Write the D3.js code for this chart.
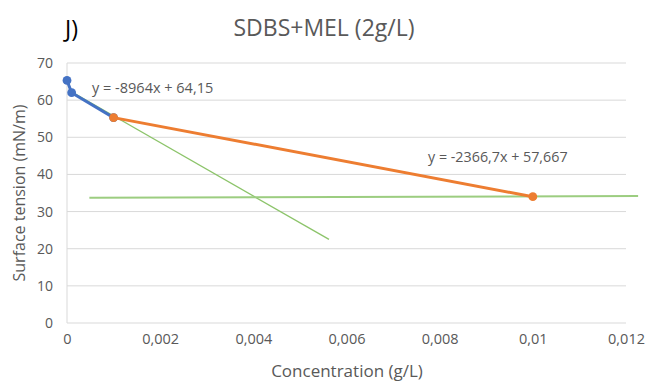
<!DOCTYPE html>
<html>
<head>
<meta charset="utf-8">
<script src="https://cdn.jsdelivr.net/npm/d3@7"></script>
<style>
  html, body { margin: 0; padding: 0; background: #fff; }
  svg text { font-family: "Open Sans", Lato, sans-serif; }
</style>
</head>
<body>
<svg id="chart" width="647" height="383"></svg>
<script>
// Surface tension of SDBS+MEL (2 g/L) vs concentration
const xTicks = [0, 0.002, 0.004, 0.006, 0.008, 0.01, 0.012];
const yTicks = [0, 10, 20, 30, 40, 50, 60, 70];

// Low-concentration series (blue)
const lowConc = [0, 0.0001, 0.001];
const lowTension = [65.3, 62.0, 55.3];

// High-concentration series (orange)
const highConc = [0.001, 0.01];
const highTension = [55.3, 34.0];

// Fitted equations shown on the chart
const lowFit = { slope: -8964, intercept: 64.15, label: "y = -8964x + 64,15" };
const highFit = { slope: -2366.7, intercept: 57.667, label: "y = -2366,7x + 57,667" };

// Hand-drawn guide lines (green) used to read the CMC intersection
const guideSteepX = [0.000107, 0.005624];
const guideSteepY = [62.2, 22.5];
const guideFlatX = [0.00048, 0.01226];
const guideFlatY = [33.7, 34.2];

const svg = d3.select("#chart");
const margin = { left: 67, right: 21, top: 63, bottom: 60 };
const W = 647, H = 383;

const x = d3.scaleLinear().domain([0, 0.012]).range([margin.left, W - margin.right]);
const y = d3.scaleLinear().domain([0, 70]).range([H - margin.bottom, margin.top]);

const grey = "#595959";
const fmt = d => String(d).replace(".", ",");

// Horizontal gridlines
svg.append("g")
  .selectAll("line")
  .data(yTicks)
  .join("line")
  .attr("x1", x(0)).attr("x2", x(0.012))
  .attr("y1", d => y(d)).attr("y2", d => y(d))
  .attr("stroke", "#d9d9d9").attr("stroke-width", 1);

// Y axis line
svg.append("line")
  .attr("x1", x(0)).attr("x2", x(0))
  .attr("y1", y(0)).attr("y2", y(70))
  .attr("stroke", "#d9d9d9").attr("stroke-width", 1);

// Axes (labels only)
const yAxis = d3.axisLeft(y).tickValues(yTicks).tickSize(0).tickPadding(14).tickFormat(d => d);
svg.append("g").attr("transform", `translate(${x(0)},0)`).call(yAxis)
  .call(g => g.select(".domain").remove())
  .selectAll("text").attr("fill", grey).style("font-size", "14px");

const xAxis = d3.axisBottom(x).tickValues(xTicks).tickSize(0).tickPadding(11).tickFormat(fmt);
svg.append("g").attr("transform", `translate(0,${y(0)})`).call(xAxis)
  .call(g => g.select(".domain").remove())
  .selectAll("text").attr("fill", grey).style("font-size", "14.5px");

const line = d3.line().x(d => x(d[0])).y(d => y(d[1]));

// Guide lines
svg.append("path")
  .attr("d", line(d3.zip(guideSteepX, guideSteepY)))
  .attr("fill", "none").attr("stroke", "#8cc46a").attr("stroke-width", 1.3);
svg.append("path")
  .attr("d", line(d3.zip(guideFlatX, guideFlatY)))
  .attr("fill", "none").attr("stroke", "#9ccd80").attr("stroke-width", 2);

// Series
function drawSeries(xs, ys, color) {
  const pts = d3.zip(xs, ys);
  svg.append("path").attr("d", line(pts))
    .attr("fill", "none").attr("stroke", color).attr("stroke-width", 3)
    .attr("stroke-linejoin", "round");
  svg.append("g").selectAll("circle").data(pts).join("circle")
    .attr("cx", d => x(d[0])).attr("cy", d => y(d[1])).attr("r", 4.4)
    .attr("fill", color);
}
drawSeries(lowConc, lowTension, "#4472c4");
drawSeries(highConc, highTension, "#ed7d31");

// Equation labels
svg.append("text").attr("x", 92).attr("y", 93)
  .attr("fill", grey).style("font-size", "14.5px").text(lowFit.label);
svg.append("text").attr("x", 428).attr("y", 162)
  .attr("fill", grey).style("font-size", "14.3px").text(highFit.label);

// Titles
svg.append("text").attr("x", 324).attr("y", 36).attr("text-anchor", "middle")
  .attr("fill", grey).style("font-size", "23px").text("SDBS+MEL (2g/L)");
svg.append("text").attr("x", 65).attr("y", 37)
  .attr("fill", "#000").style("font-size", "23px").text("J)");
svg.append("text").attr("x", 347).attr("y", 377).attr("text-anchor", "middle")
  .attr("fill", grey).style("font-size", "17px").text("Concentration (g/L)");
svg.append("text")
  .attr("transform", `translate(25,${y(35)}) rotate(-90)`)
  .attr("text-anchor", "middle")
  .attr("fill", grey).style("font-size", "16px").text("Surface tension (mN/m)");
</script>
</body>
</html>
